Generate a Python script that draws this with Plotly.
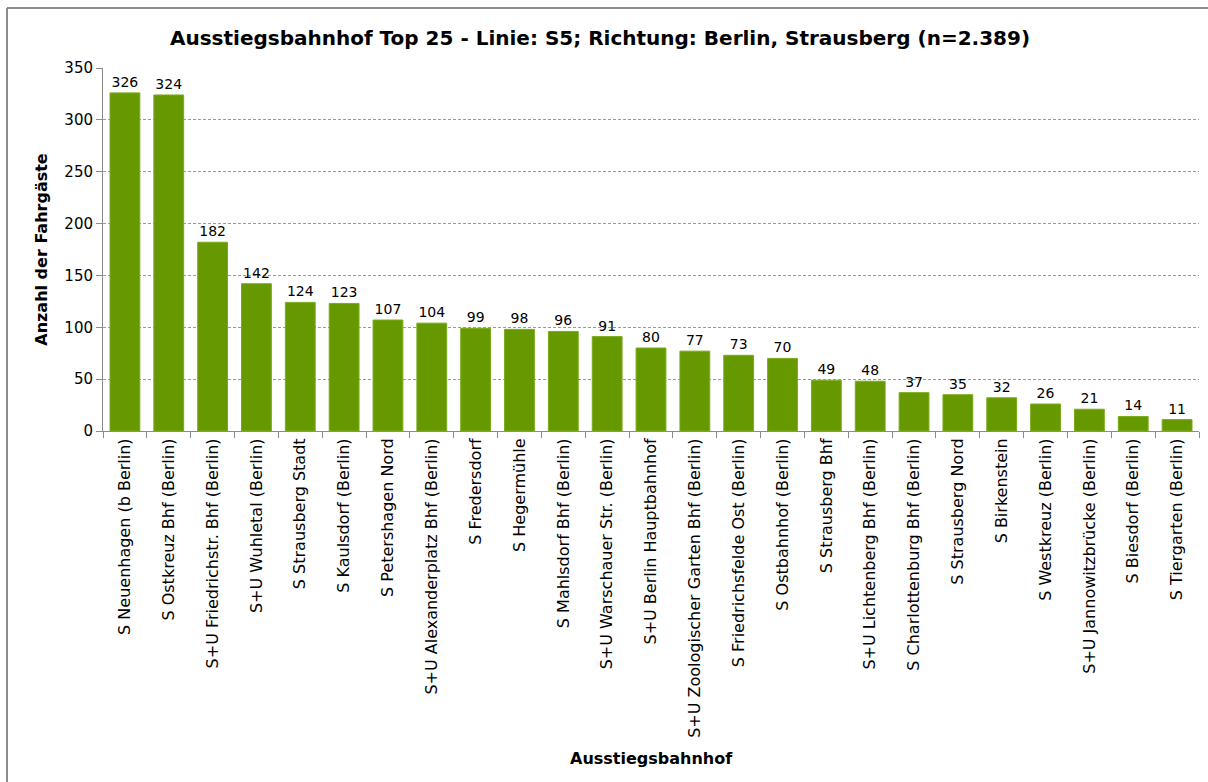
import plotly.graph_objects as go

stations = [
    "S Neuenhagen (b Berlin)", "S Ostkreuz Bhf (Berlin)", "S+U Friedrichstr. Bhf (Berlin)",
    "S+U Wuhletal (Berlin)", "S Strausberg Stadt", "S Kaulsdorf (Berlin)",
    "S Petershagen Nord", "S+U Alexanderplatz Bhf (Berlin)", "S Fredersdorf",
    "S Hegermühle", "S Mahlsdorf Bhf (Berlin)", "S+U Warschauer Str. (Berlin)",
    "S+U Berlin Hauptbahnhof", "S+U Zoologischer Garten Bhf (Berlin)",
    "S Friedrichsfelde Ost (Berlin)", "S Ostbahnhof (Berlin)", "S Strausberg Bhf",
    "S+U Lichtenberg Bhf (Berlin)", "S Charlottenburg Bhf (Berlin)", "S Strausberg Nord",
    "S Birkenstein", "S Westkreuz (Berlin)", "S+U Jannowitzbrücke (Berlin)",
    "S Biesdorf (Berlin)", "S Tiergarten (Berlin)",
]
passengers = [326, 324, 182, 142, 124, 123, 107, 104, 99, 98, 96, 91, 80, 77, 73, 70,
              49, 48, 37, 35, 32, 26, 21, 14, 11]
y_ticks = [0, 50, 100, 150, 200, 250, 300, 350]

FONT = "DejaVu Sans"
L, R, T, B = 103, 1199, 68, 431
PW, PH = R - L, B - T

fig = go.Figure(go.Bar(
    x=stations, y=passengers,
    marker=dict(color="#669900", line=dict(color="#7aab1a", width=1)),
    text=[str(v) for v in passengers], textposition="outside",
    textfont=dict(family=FONT, size=14, color="#000000"),
    cliponaxis=False,
))

border = dict(type="line", xref="paper", yref="paper",
              line=dict(color="#8c8c8c", width=2), layer="below")

fig.update_layout(
    width=1208, height=782,
    margin=dict(l=L, r=1208 - R, t=T, b=782 - B, autoexpand=False),
    paper_bgcolor="white", plot_bgcolor="white",
    bargap=0.32,
    showlegend=False,
    title=dict(text="<b>Ausstiegsbahnhof Top 25 - Linie: S5; Richtung: Berlin, Strausberg (n=2.389)</b>",
               x=600 / 1208, xanchor="center", y=1 - 38 / 782, yanchor="middle",
               font=dict(family=FONT, size=20, color="#000000")),
    font=dict(family=FONT, color="#000000"),
    shapes=[
        dict(border, x0=(7 - L) / PW, x1=(7 - L) / PW, y0=(B - 782) / PH, y1=(B - 8) / PH),
        dict(border, x0=(7 - L) / PW, x1=(1208 - L) / PW, y0=(B - 8) / PH, y1=(B - 8) / PH),
    ],
    annotations=[dict(text="<b>Ausstiegsbahnhof</b>", xref="paper", yref="paper",
                      x=(651 - L) / PW, y=(B - 758) / PH, xanchor="center", yanchor="middle",
                      showarrow=False, font=dict(family=FONT, size=16, color="#000000"))],
)

fig.update_xaxes(
    type="category", tickangle=-90,
    tickfont=dict(family=FONT, size=16, color="#000000"),
    showline=True, linecolor="#8c8c8c", linewidth=1,
    ticks="outside", tickson="boundaries", ticklen=6, tickcolor="#8c8c8c",
    showgrid=False, automargin=False,
)
fig.update_yaxes(
    range=[0, 350], tickvals=y_ticks,
    tickfont=dict(family=FONT, size=15, color="#000000"),
    showline=True, linecolor="#8c8c8c", linewidth=1,
    ticks="outside", ticklen=6, tickcolor="#8c8c8c",
    showgrid=True, gridcolor="#9a9a9a", griddash="3px,2px", gridwidth=1,
    zeroline=False, automargin=False,
    title=dict(text="<b>Anzahl der Fahrgäste</b>", font=dict(family=FONT, size=16, color="#000000"),
               standoff=12),
)

fig.write_html("out.html", config={"displayModeBar": False},
               post_script="document.body.style.margin='0';document.body.style.overflow='hidden';"
                           "document.documentElement.style.overflow='hidden';")
